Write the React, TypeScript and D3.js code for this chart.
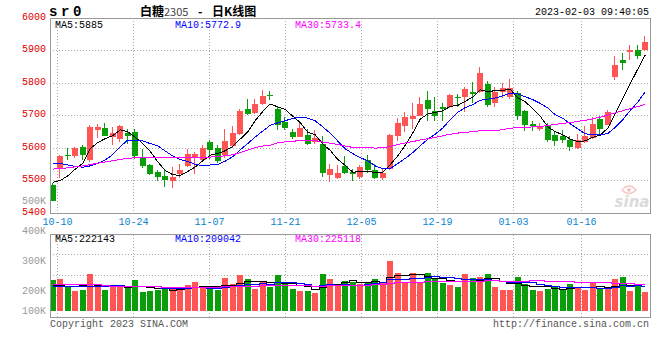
import React from "react";
import * as d3 from "d3";

// ---------- data ----------
const dates = [
  "09-30",
  "10-10","10-11","10-12","10-13","10-14",
  "10-17","10-18","10-19","10-20","10-21",
  "10-24","10-25","10-26","10-27","10-28",
  "10-31","11-01","11-02","11-03","11-04",
  "11-07","11-08","11-09","11-10","11-11",
  "11-14","11-15","11-16","11-17","11-18",
  "11-21","11-22","11-23","11-24","11-25",
  "11-28","11-29","11-30","12-01","12-02",
  "12-05","12-06","12-07","12-08","12-09",
  "12-12","12-13","12-14","12-15","12-16",
  "12-19","12-20","12-21","12-22","12-23",
  "12-26","12-27","12-28","12-29","12-30",
  "01-03","01-04","01-05","01-06",
  "01-09","01-10","01-11","01-12","01-13",
  "01-16","01-17","01-18","01-19","01-20",
  "01-30","01-31","02-01","02-02","02-03",
];

const opens = [
  5487,5538,5580,5574,5603,5563,5654,5661,5635,5628,
  5647,5648,5571,5547,5525,5513,5499,5520,5545,5569,
  5563,5619,5599,5577,5607,5643,5719,5708,5735,5764,
  5720,5681,5650,5635,5640,5618,5612,5518,5509,5545,
  5527,5512,5563,5533,5508,5535,5638,5668,5690,5700,
  5748,5714,5725,5725,5756,5757,5771,5772,5797,5740,
  5771,5757,5770,5713,5675,5657,5672,5641,5636,5626,
  5600,5618,5631,5689,5672,5820,5871,5894,5902,5901,
];
const highs = [
  5492,5580,5599,5603,5609,5672,5673,5676,5666,5672,
  5660,5657,5598,5550,5531,5532,5540,5550,5596,5589,
  5609,5626,5608,5660,5668,5720,5751,5751,5777,5774,
  5727,5695,5659,5678,5657,5655,5637,5550,5548,5575,
  5535,5548,5580,5550,5538,5643,5691,5712,5740,5756,
  5776,5757,5740,5766,5767,5787,5802,5848,5807,5788,
  5800,5812,5775,5718,5683,5677,5677,5652,5656,5638,
  5644,5667,5695,5700,5718,5882,5892,5917,5918,5945,
];
const lows = [
  5436,5508,5562,5569,5562,5558,5630,5636,5610,5620,
  5612,5565,5538,5518,5497,5479,5476,5507,5542,5521,
  5558,5565,5555,5570,5601,5639,5702,5705,5732,5747,
  5656,5656,5628,5634,5609,5613,5512,5494,5506,5519,
  5500,5505,5523,5506,5503,5532,5621,5650,5660,5697,
  5683,5684,5684,5722,5725,5710,5740,5770,5725,5726,
  5755,5750,5685,5652,5652,5651,5618,5607,5616,5590,
  5597,5615,5628,5644,5670,5810,5839,5872,5874,5897,
];
const closes = [
  5438,5574,5575,5600,5577,5666,5664,5638,5645,5667,
  5638,5576,5544,5521,5510,5503,5511,5532,5582,5581,
  5599,5595,5560,5623,5646,5714,5705,5735,5761,5761,
  5671,5663,5634,5662,5612,5630,5524,5535,5522,5524,
  5520,5542,5532,5507,5523,5640,5676,5695,5697,5736,
  5720,5700,5720,5763,5753,5782,5767,5830,5732,5773,
  5784,5785,5697,5672,5667,5667,5624,5621,5624,5603,
  5626,5636,5675,5658,5710,5856,5863,5902,5882,5927,
];
const volumes = [
  276000,285000,226000,178000,186000,330000,216000,186000,224000,215000,
  205000,276000,169000,180000,190000,195000,204000,186000,231000,259000,
  207000,207000,186000,294000,242000,321000,285000,195000,267000,216000,
  321000,240000,195000,177000,177000,160000,330000,285000,240000,267000,
  258000,240000,258000,285000,258000,447000,339000,258000,339000,258000,
  339000,285000,249000,231000,213000,330000,294000,303000,330000,213000,
  186000,186000,303000,240000,186000,177000,195000,213000,186000,240000,
  213000,186000,249000,195000,195000,285000,303000,177000,240000,168000,
];

// moving-average values before enough history is visible
const ma5Head = [5494, 5500, 5514, 5535];
const ma10Head = [5553, 5552, 5548, 5543, 5541, 5545, 5553, 5563, 5580];
const ma30Head = [
  5535, 5537, 5539, 5542, 5545, 5549, 5553, 5557, 5561, 5565,
  5568, 5570, 5571, 5572, 5572, 5572, 5572, 5571, 5571, 5571,
  5571, 5572, 5574, 5576, 5579, 5586, 5594, 5601, 5606,
];
const vma5Head = [231000, 228000, 224000, 222000];
const vma10Head = [219000, 219000, 219000, 219000, 219000, 219000, 220000, 222000, 226000];
const vma30Head = [
  240000, 240000, 240000, 240000, 240000, 239000, 238000, 226000, 223000, 222000,
  222000, 222000, 222000, 222000, 221000, 212000, 210000, 210000, 210000, 210000,
  210000, 210000, 211000, 218000, 220000, 221000, 222000, 224000, 226000,
];

const priceLabels = [6000, 5900, 5800, 5700, 5600, 5500, 5400];
const priceGrid = [5900, 5800, 5700, 5600, 5500];
const dateLabels = ["10-10", "10-24", "11-07", "11-21", "12-05", "12-19", "01-03", "01-16"];
const volLabels = [500000, 400000, 300000, 200000, 100000];

const titleSymbol = "sr0";
const titleName = "白糖";
const titleCode = "2305";
const titleKind = "日K线图";
const timestamp = "2023-02-03 09:40:05";
const priceMaText = ["MA5:5885", "MA10:5772.9", "MA30:5733.4"];
const volMaText = ["MA5:222143", "MA10:209042", "MA30:225118"];
const copyright = "Copyright 2023 SINA.COM";
const siteUrl = "http://finance.sina.com.cn";

// ---------- helpers ----------
function movingAvg(values: number[], n: number, head: number[]): number[] {
  return values.map((v, i) =>
    i < n - 1 ? head[i] : (d3.mean(values.slice(i - n + 1, i + 1)) as number)
  );
}

const RED = "#ff5555";
const GREEN = "#0a9e0a";
const MA_COLORS = ["#000000", "#0000ff", "#ff00ff"];
const MONO = "'Liberation Mono', 'Courier New', monospace";
const CJK = "'Noto Sans CJK SC', sans-serif";

const L = 50, R = 650;
const P_TOP = 18, P_BOT = 213;
const V_TOP = 234.5, V_BOT = 317.5;

export default function App() {
  const n = dates.length;
  const xBand = d3.scaleBand<string>().domain(dates).range([49, 649]);
  const xGrid = d3.scalePoint<string>().domain(dates).range([L, R]);
  const bw = xBand.bandwidth();
  const cx = (i: number) => (xBand(dates[i]) as number) + bw / 2;

  const yP = d3.scaleLinear().domain([5400, 6000]).range([P_BOT, P_TOP]);
  const yV = d3.scaleLinear().domain([0, 700000]).range([311, 233.3]);
  const yVolLabel = d3.scaleLinear().domain([200000, 500000]).range([293.8, 203.8]);

  const ma5 = movingAvg(closes, 5, ma5Head);
  const ma10 = movingAvg(closes, 10, ma10Head);
  const ma30 = movingAvg(closes, 30, ma30Head);
  const vma5 = movingAvg(volumes, 5, vma5Head);
  const vma10 = movingAvg(volumes, 10, vma10Head);
  const vma30 = movingAvg(volumes, 30, vma30Head);

  const priceLine = d3.line<number>().x((_, i) => cx(i)).y((v) => yP(v));
  const volLine = d3
    .line<number>()
    .x((_, i) => cx(i))
    .y((v) => Math.floor(yV(v)) + 0.5)
    .curve(d3.curveStep);

  const gridXs = dateLabels.map((d) => Math.floor(xGrid(d) as number) + 0.5);
  const volGridYs = d3.range(1, 4).map((k) => Math.floor(V_TOP + k * 20.4) + 0.5);

  const candles = d3.range(n).map((i) => {
    const up = closes[i] >= opens[i];
    const color = up ? RED : GREEN;
    const x0 = Math.round(cx(i) - 3);
    const yTop = Math.round(yP(Math.max(opens[i], closes[i])));
    const yBot = Math.round(yP(Math.min(opens[i], closes[i])));
    const wx = x0 + 2.5;
    return (
      <g key={i}>
        <line x1={wx} x2={wx} y1={Math.round(yP(highs[i]))} y2={Math.round(yP(lows[i]))} stroke={color} strokeWidth={1} />
        <rect x={x0} y={yTop} width={6} height={Math.max(1, yBot - yTop)} fill={color} />
      </g>
    );
  });

  const volBars = d3.range(n).map((i) => {
    const up = closes[i] >= opens[i];
    const x0 = Math.round(cx(i) - 3);
    const y = Math.round(yV(volumes[i]));
    return <rect key={i} x={x0} y={y} width={6} height={311 - y} fill={up ? RED : GREEN} />;
  });

  const dotted = { stroke: "#aaaaaa", strokeWidth: 1, strokeDasharray: "1,2" };

  return (
    <svg
      width={660}
      height={360}
      style={{ position: "absolute", left: 0, top: 0, background: "#fff" }}
      shapeRendering="crispEdges"
    >
      <rect x={0} y={0} width={660} height={360} fill="#fff" />

      {/* header */}
      <text x={49} y={16} fontFamily={MONO} fontSize={14} fontWeight="bold" letterSpacing={3.6} fill="#000">
        {titleSymbol}
      </text>
      <text x={140} y={16} fontFamily={CJK} fontSize={12} fontWeight="bold" fill="#000">{titleName}</text>
      <text x={164} y={16} fontFamily={CJK} fontSize={11} fill="#444">{titleCode}</text>
      <text x={198} y={16} fontFamily={CJK} fontSize={12} fontWeight="bold" fill="#000">-</text>
      <text x={212} y={16} fontFamily={CJK} fontSize={12} fontWeight="bold" fill="#000">{titleKind}</text>
      <text x={649} y={15} textAnchor="end" fontFamily={MONO} fontSize={10} fill="#000">{timestamp}</text>

      {/* price grid */}
      {priceGrid.map((p) => (
        <line key={p} x1={L} x2={R} y1={Math.floor(yP(p)) + 0.5} y2={Math.floor(yP(p)) + 0.5} {...dotted} />
      ))}
      {gridXs.map((x, k) => (
        <g key={k}>
          <line x1={x} x2={x} y1={P_TOP} y2={P_BOT} {...dotted} />
          <line x1={x} x2={x} y1={V_TOP} y2={V_BOT} {...dotted} />
        </g>
      ))}
      {volGridYs.map((y) => (
        <line key={y} x1={L} x2={R} y1={y} y2={y} {...dotted} />
      ))}

      {/* watermark */}
      <g opacity={0.35} shapeRendering="auto">
        <path d="M622,190 Q629,182 636,190 Q629,197 622,190 Z" fill="none" stroke="#e06060" strokeWidth={1.5} />
        <circle cx={629} cy={190} r={2} fill="#e06060" />
        <text x={632} y={207} textAnchor="middle" fontFamily="'DejaVu Sans', sans-serif" fontSize={15} fontStyle="italic" fontWeight="bold" fill="#999999">
          sina
        </text>
      </g>

      {/* candles */}
      {candles}

      {/* price MAs */}
      {[ma5, ma10, ma30].map((m, k) => (
        <path key={k} d={priceLine(m) as string} fill="none" stroke={MA_COLORS[k]} strokeWidth={1} />
      ))}

      {/* volume */}
      {volBars}
      {[vma5, vma10, vma30].map((m, k) => (
        <path key={k} d={volLine(m) as string} fill="none" stroke={MA_COLORS[k]} strokeWidth={1} />
      ))}

      {/* panel borders */}
      <rect x={L + 0.5} y={P_TOP + 0.5} width={R - L} height={P_BOT - P_TOP} fill="none" stroke="#999" strokeWidth={1} />
      <rect x={L + 0.5} y={V_TOP} width={R - L} height={V_BOT - V_TOP} fill="none" stroke="#999" strokeWidth={1} />

      {/* MA legends */}
      {priceMaText.map((t, k) => (
        <text key={k} x={55 + k * 120} y={27.5} fontFamily={MONO} fontSize={10} fill={MA_COLORS[k]}>{t}</text>
      ))}
      {volMaText.map((t, k) => (
        <text key={k} x={55 + k * 120} y={241.8} fontFamily={MONO} fontSize={10} fill={MA_COLORS[k]}>{t}</text>
      ))}

      {/* price axis labels */}
      {priceLabels.map((p) => (
        <text key={p} x={46} y={yP(p) + 1.5} textAnchor="end" fontFamily={MONO} fontSize={10} fill="#dd0000">{p}</text>
      ))}

      {/* volume axis labels */}
      {volLabels.map((v) => (
        <text key={v} x={46} y={Math.min(yVolLabel(v), 313.8)} textAnchor="end" fontFamily={MONO} fontSize={10} fill="#999">
          {`${v / 1000}K`}
        </text>
      ))}

      {/* date labels */}
      {dateLabels.map((d, k) => (
        <text key={d} x={gridXs[k]} y={225} textAnchor="middle" fontFamily={MONO} fontSize={10} fill="#0a84d0">{d}</text>
      ))}

      {/* footer */}
      <text x={50} y={327.3} fontFamily={MONO} fontSize={10} fill="#555">{copyright}</text>
      <text x={649} y={327.3} textAnchor="end" fontFamily={MONO} fontSize={10} fill="#555">{siteUrl}</text>
    </svg>
  );
}
